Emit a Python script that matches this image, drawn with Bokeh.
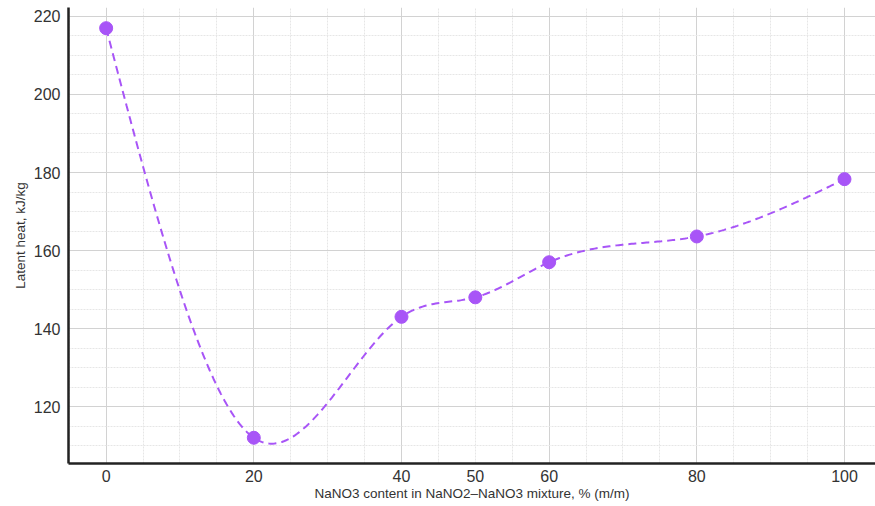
import numpy as np
from bokeh.plotting import figure
from bokeh.models import FixedTicker, SingleIntervalTicker, Range1d
from bokeh.embed import file_html
from bokeh.resources import INLINE

# data
nano3_pct = [0, 20, 40, 50, 60, 80, 100]
latent_heat = [217, 112, 143, 148, 157, 163.6, 178.3]
x_tick_values = [0, 20, 40, 50, 60, 80, 100]

x_label = "NaNO3 content in NaNO2\u2013NaNO3 mixture, % (m/m)"
y_label = "Latent heat, kJ/kg"

COLOR = "#a855f7"
FONT = "Liberation Sans"


def natural_spline(xs, ys, n=400):
    xs = np.asarray(xs, float)
    ys = np.asarray(ys, float)
    k = len(xs)
    h = np.diff(xs)
    A = np.zeros((k, k))
    b = np.zeros(k)
    A[0, 0] = 1
    A[-1, -1] = 1
    for i in range(1, k - 1):
        A[i, i - 1] = h[i - 1]
        A[i, i] = 2 * (h[i - 1] + h[i])
        A[i, i + 1] = h[i]
        b[i] = 3 * ((ys[i + 1] - ys[i]) / h[i] - (ys[i] - ys[i - 1]) / h[i - 1])
    c = np.linalg.solve(A, b)
    bb = np.zeros(k - 1)
    d = np.zeros(k - 1)
    for i in range(k - 1):
        bb[i] = (ys[i + 1] - ys[i]) / h[i] - h[i] * (2 * c[i] + c[i + 1]) / 3
        d[i] = (c[i + 1] - c[i]) / (3 * h[i])
    xx = np.linspace(xs[0], xs[-1], n)
    idx = np.clip(np.searchsorted(xs, xx, side="right") - 1, 0, k - 2)
    t = xx - xs[idx]
    yy = ys[idx] + bb[idx] * t + c[idx] * t ** 2 + d[idx] * t ** 3
    return xx, yy


sx, sy = natural_spline(nano3_pct, latent_heat)

p = figure(width=875, height=506, output_backend="svg", toolbar_location=None,
           x_range=Range1d(-5.1, 104.2), y_range=Range1d(105.4, 222.3),
           min_border_left=68, min_border_right=0, min_border_top=7, min_border_bottom=43)
p.outline_line_color = None
p.background_fill_color = "white"
p.border_fill_color = "white"

p.line(sx, sy, line_color=COLOR, line_width=2, line_dash="8 5")
p.scatter(nano3_pct, latent_heat, size=13, fill_color=COLOR, line_color=COLOR)

p.xaxis.ticker = FixedTicker(ticks=x_tick_values)
p.yaxis.ticker = SingleIntervalTicker(interval=20)
p.xgrid.ticker = SingleIntervalTicker(interval=20, num_minor_ticks=4)
p.ygrid.ticker = SingleIntervalTicker(interval=20, num_minor_ticks=4)

for g in (p.xgrid, p.ygrid):
    g.grid_line_color = "#d2d2d2"
    g.grid_line_width = 1
    g.minor_grid_line_color = "#e6e6e6"
    g.minor_grid_line_width = 1
    g.minor_grid_line_dash = "2 1"

for ax in (p.xaxis, p.yaxis):
    ax.axis_line_color = "#222222"
    ax.axis_line_width = 2.5
    ax.major_tick_line_color = None
    ax.minor_tick_line_color = None
    ax.major_label_text_font = FONT
    ax.major_label_text_font_size = "16px"
    ax.major_label_text_color = "#333333"
    ax.axis_label_text_font = FONT
    ax.axis_label_text_font_size = "13.5px"
    ax.axis_label_text_font_style = "normal"
    ax.axis_label_text_color = "#333333"

p.xaxis.major_label_standoff = 0
p.xaxis.axis_label_standoff = 1
p.yaxis.major_label_standoff = 2
p.yaxis.axis_label_standoff = 3

p.xaxis.axis_label = x_label
p.yaxis.axis_label = y_label

open("out.html", "w").write(file_html(p, INLINE))
